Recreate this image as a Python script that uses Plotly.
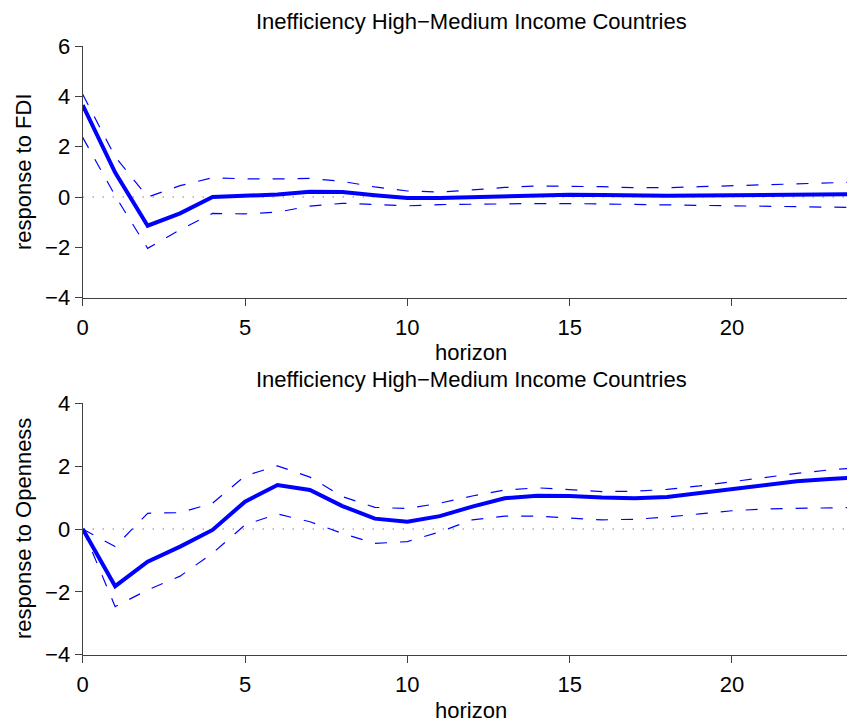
import plotly.graph_objects as go

horizon = list(range(25))

fdi_resp = [3.65, 0.97, -1.14, -0.65, 0.0, 0.07, 0.1, 0.21, 0.2, 0.07, -0.04, -0.04,
            -0.01, 0.06, 0.09, 0.09, 0.08, 0.05, 0.05, 0.06, 0.07, 0.08, 0.1, 0.11, 0.12]
fdi_upper = [4.08, 1.6, 0.0, 0.45, 0.77, 0.72, 0.72, 0.74, 0.62, 0.4, 0.24, 0.2,
             0.28, 0.38, 0.44, 0.44, 0.41, 0.37, 0.37, 0.41, 0.45, 0.49, 0.53, 0.57, 0.6]
fdi_lower = [2.37, 0.05, -2.04, -1.3, -0.65, -0.67, -0.6, -0.36, -0.25, -0.3, -0.35, -0.3,
             -0.28, -0.26, -0.26, -0.26, -0.28, -0.29, -0.3, -0.32, -0.34, -0.36, -0.38, -0.4, -0.42]

open_resp = [0.0, -1.82, -1.04, -0.56, -0.03, 0.87, 1.40, 1.24, 0.73, 0.33, 0.23, 0.41,
             0.71, 0.98, 1.06, 1.05, 1.0, 0.98, 1.02, 1.14, 1.28, 1.41, 1.52, 1.59, 1.65]
open_upper = [0.0, -0.56, 0.50, 0.52, 0.82, 1.69, 2.01, 1.65, 1.03, 0.69, 0.65, 0.82,
              1.05, 1.24, 1.31, 1.24, 1.19, 1.2, 1.26, 1.37, 1.50, 1.65, 1.77, 1.88, 1.96]
open_lower = [0.0, -2.47, -1.94, -1.5, -0.77, 0.13, 0.48, 0.23, -0.14, -0.46, -0.40, -0.09,
              0.29, 0.41, 0.41, 0.35, 0.29, 0.31, 0.38, 0.48, 0.58, 0.64, 0.66, 0.67, 0.69]
zero_line = [0.0] * len(horizon)

title_text = "Inefficiency High\u2212Medium Income Countries"
xlabel = "horizon"
ylabel_top = "response to FDI"
ylabel_bottom = "response to Openness"

x_ticks = [0, 5, 10, 15, 20]
y_ticks_top = [-4, -2, 0, 2, 4, 6]
y_ticks_bottom = [-4, -2, 0, 2, 4]

W, H = 855, 722
OFF = 8  # page body margin of the html wrapper
BLUE = "#0000FF"
AX = "#404040"
FONT = "Liberation Sans, Arial, sans-serif"

fig = go.Figure()

def add_panel(xa, ya, resp, up, lo):
    fig.add_trace(go.Scatter(x=horizon, y=zero_line, mode="lines", xaxis=xa, yaxis=ya,
                             line=dict(color="#444444", width=1.2, dash="1px,9px"),
                             showlegend=False, hoverinfo="skip"))
    for band in (up, lo):
        fig.add_trace(go.Scatter(x=horizon, y=band, mode="lines", xaxis=xa, yaxis=ya,
                                 line=dict(color=BLUE, width=1.2, dash="12px,13px"),
                                 showlegend=False))
    fig.add_trace(go.Scatter(x=horizon, y=resp, mode="lines", xaxis=xa, yaxis=ya,
                             line=dict(color=BLUE, width=4),
                             showlegend=False))

add_panel("x", "y", fdi_resp, fdi_upper, fdi_lower)
add_panel("x2", "y2", open_resp, open_upper, open_lower)

def xfrac(px):
    return (px - OFF) / W

def yfrac(px):
    return (H - (px - OFF)) / H

xdom = [xfrac(82.7), xfrac(855)]
xr = [0, 23.79]

axis_common = dict(showline=True, linecolor=AX, linewidth=1.3, ticks="outside",
                   ticklen=7, tickwidth=1.3, tickcolor=AX, showgrid=False, zeroline=False,
                   automargin=False,
                   tickfont=dict(size=22, color="black", family=FONT))

fig.update_layout(
    template="none",
    width=W, height=H, autosize=False,
    margin=dict(l=0, r=0, t=0, b=0, pad=0, autoexpand=False),
    paper_bgcolor="white", plot_bgcolor="white",
    font=dict(family=FONT, color="black", size=22),
    showlegend=False,
    xaxis=dict(domain=xdom, range=xr, anchor="y", tickvals=x_ticks,
               ticklabelstandoff=3, **axis_common),
    yaxis=dict(domain=[yfrac(297.7), yfrac(46)], range=[-4, 6], anchor="x",
               tickvals=y_ticks_top, **axis_common),
    xaxis2=dict(domain=xdom, range=xr, anchor="y2", tickvals=x_ticks,
                ticklabelstandoff=3, **axis_common),
    yaxis2=dict(domain=[yfrac(654.7), yfrac(403.3)], range=[-4, 4], anchor="x2",
                tickvals=y_ticks_bottom, **axis_common),
)

def ann(text, xpx, ypx, angle=0):
    fig.add_annotation(text=text, xref="paper", yref="paper", x=xfrac(xpx), y=yfrac(ypx),
                       xanchor="center", yanchor="middle", showarrow=False, textangle=angle,
                       font=dict(size=22, color="black", family=FONT))

ann(title_text, 471, 21)
ann(xlabel, 471, 352)
ann(title_text, 471, 379)
ann(xlabel, 471, 710)
ann(ylabel_top, 23, 172, -90)
ann(ylabel_bottom, 23, 529, -90)

fig.write_html("out.html")
